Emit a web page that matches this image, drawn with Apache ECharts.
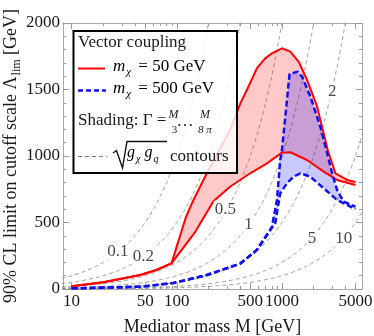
<!DOCTYPE html>
<html><head><meta charset="utf-8">
<script src="https://cdn.jsdelivr.net/npm/echarts@6/dist/echarts.min.js"></script>
<style>html,body{margin:0;padding:0;background:#fff}#c{width:374px;height:336px}</style>
</head><body><div id="c"></div>
<script>
// ---------- data ----------
const xMajorTicks = [10, 50, 100, 500, 1000, 5000];
const xMinorTicks = [20, 30, 40, 60, 70, 80, 90, 200, 300, 400, 600, 700, 800, 900, 2000, 3000, 4000];

// m_chi = 50 GeV, two width assumptions (red)
const massRedUpper   = [10, 20, 45, 64, 89, 122, 144, 193, 321, 402, 464, 577, 693, 803, 1000, 1200, 1440, 1730, 2157, 2723, 3220, 4170, 5000];
const lambdaRedUpper = [20, 50, 105, 143, 193, 540, 669, 870, 1195, 1396, 1496, 1659, 1734, 1772, 1810, 1785, 1710, 1573, 1373, 1045, 870, 820, 805];
const massRedLower   = [10, 20, 45, 64, 89, 150, 223, 321, 499, 720, 1000, 1200, 1730, 2494, 3340, 4170, 5000];
const lambdaRedLower = [20, 50, 105, 143, 193, 430, 660, 769, 870, 945, 1025, 1028, 970, 882, 820, 799, 782];

// m_chi = 500 GeV (blue)
const massBlueUpper   = [10, 45, 93, 193, 400, 577, 773, 803, 896, 963, 1000, 1181, 1408, 1552, 1862, 2318, 2643, 2997, 3344, 3863, 5000];
const lambdaBlueUpper = [5, 17, 45, 105, 190, 293, 444, 468, 669, 970, 1045, 1617, 1634, 1596, 1446, 1220, 1045, 870, 744, 656, 620];
const massBlueLower   = [10, 45, 93, 193, 400, 577, 773, 863, 963, 1116, 1290, 1494, 1862, 2494, 3344, 4170, 5000];
const lambdaBlueLower = [5, 17, 45, 105, 190, 293, 444, 494, 719, 795, 844, 870, 844, 757, 669, 632, 600];

// sqrt(g_chi g_q) contours: Lambda = M / g
const contourCouplings = [0.1, 0.2, 0.5, 1, 2, 5, 10];
const contourMassGrid = [8, 9, 10, 12, 14, 17, 20, 25, 30, 35, 40, 50, 60, 70, 80, 100, 120, 140, 170, 200, 250, 300, 350, 400, 500, 600, 700, 800, 1000, 1200, 1400, 1700, 2000, 2500, 3000, 3500, 4000, 5000, 6000];
const contourLabelMass   = [27.5, 48, 290, 481, 3000, 1932, 3865];
const contourLabelLambda = [280, 243, 600, 481, 1483, 381, 381];

// ---------- chart ----------
const FONT = '"Liberation Serif", "Times New Roman", serif';
const lg = Math.log10;
const toPts = (ms, ls) => ms.map((m, i) => [lg(m), ls[i]]);
const xMin = 0.918, xMax = 3.761;
const frameColor = '#aaaaaa', tickColor = '#999999', textColor = '#1a1a1a';
const RED = '#ff0000', BLUE = '#1010f0';

function band(upM, upL, loM, loL, fill) {
  const poly = toPts(upM, upL).concat(toPts(loM, loL).reverse());
  return {
    type: 'custom', coordinateSystem: 'cartesian2d', silent: true, z: 2,
    data: [poly[0]],
    renderItem(params, api) {
      return { type: 'polygon', shape: { points: poly.map(p => api.coord(p)) }, style: { fill: fill, stroke: null } };
    }
  };
}

const baseX = { type: 'value', min: xMin, max: xMax, splitLine: { show: false },
  axisLine: { show: false }, axisLabel: { show: false }, axisTick: { show: false } };
const majorLog = xMajorTicks.map(lg), minorLog = xMinorTicks.map(lg);
const tickLS = { color: tickColor, width: 1 };

const series = [];
contourCouplings.forEach(g => {
  series.push({ type: 'line', silent: true, z: 1, showSymbol: false, smooth: 0.3, clip: true,
    data: contourMassGrid.map(m => [lg(m), m / g]),
    lineStyle: { color: '#8a8a8a', width: 0.8, type: [4, 3] } });
});
series.push(band(massRedUpper, lambdaRedUpper, massRedLower, lambdaRedLower, 'rgba(255,0,0,0.21)'));
series.push(band(massBlueUpper, lambdaBlueUpper, massBlueLower, lambdaBlueLower, 'rgba(0,0,255,0.21)'));
const lineS = (ms, ls, color, type, width) => ({ type: 'line', silent: true, z: 4, showSymbol: false,
  data: toPts(ms, ls), lineStyle: { color, width, type } });
series.push(lineS(massRedUpper, lambdaRedUpper, RED, 'solid', 2));
series.push(lineS(massRedLower, lambdaRedLower, RED, 'solid', 2));
series.push(lineS(massBlueUpper, lambdaBlueUpper, BLUE, [6, 3], 2.5));
series.push(lineS(massBlueLower, lambdaBlueLower, BLUE, [6, 3], 2.5));
series.push({ type: 'scatter', silent: true, z: 6, symbol: 'rect', symbolSize: 1,
  itemStyle: { color: 'rgba(0,0,0,0)' },
  data: contourCouplings.map((g, i) => ({ name: String(g), value: [lg(contourLabelMass[i]), contourLabelLambda[i]] })),
  label: { show: true, position: 'inside', formatter: '{b}', fontSize: 17, fontFamily: FONT, color: textColor,
    backgroundColor: '#fff', padding: [0, 1] } });

const richMain = { fontSize: 17, fontFamily: FONT, color: textColor, verticalAlign: 'top', lineHeight: 20 };
const richIt = Object.assign({}, richMain, { fontStyle: 'italic' });
const richSub = { fontSize: 11, fontFamily: FONT, fontStyle: 'italic', color: textColor, verticalAlign: 'top', lineHeight: 11, padding: [9, 0, 0, 1] };

const Z = 100;
const graphic = [
  { type: 'rect', z: Z, shape: { x: 73.5, y: 31, width: 163.5, height: 142 },
    style: { fill: 'rgba(255,255,255,0.82)', stroke: '#000', lineWidth: 2 } },
  { type: 'text', z: Z + 1, x: 78, y: 43, style: { text: 'Vector coupling', font: '17px ' + FONT, fill: textColor, verticalAlign: 'middle' } },
  { type: 'line', z: Z + 1, shape: { x1: 78, y1: 68.5, x2: 105, y2: 68.5 }, style: { stroke: RED, lineWidth: 2 } },
  { type: 'text', z: Z + 1, x: 113, y: 68, style: { text: '{i|m}{s|χ}{n| = 50 GeV}', verticalAlign: 'middle',
      rich: { i: richIt, s: richSub, n: Object.assign({}, richMain, { padding: [0, 0, 0, 3] }) } } },
  { type: 'line', z: Z + 1, shape: { x1: 78, y1: 90.5, x2: 106, y2: 90.5 }, style: { stroke: BLUE, lineWidth: 2.5, lineDash: [5, 3] } },
  { type: 'text', z: Z + 1, x: 113, y: 90, style: { text: '{i|m}{s|χ}{n| = 500 GeV}', verticalAlign: 'middle',
      rich: { i: richIt, s: richSub, n: Object.assign({}, richMain, { padding: [0, 0, 0, 3] }) } } },
  { type: 'text', z: Z + 1, x: 78, y: 121, style: { text: 'Shading: Γ =', font: '17px ' + FONT, fill: textColor, verticalAlign: 'middle' } },
  { type: 'text', z: Z + 1, x: 173.5, y: 114.5, style: { text: 'M', font: 'italic 12px ' + FONT, fill: textColor, align: 'center', verticalAlign: 'middle' } },
  { type: 'text', z: Z + 1, x: 174.5, y: 130, style: { text: '3', font: '11px ' + FONT, fill: textColor, align: 'center', verticalAlign: 'middle' } },
  { type: 'text', z: Z + 1, x: 185, y: 122, style: { text: '…', font: '17px ' + FONT, fill: textColor, align: 'center', verticalAlign: 'middle' } },
  { type: 'text', z: Z + 1, x: 205, y: 114.5, style: { text: 'M', font: 'italic 12px ' + FONT, fill: textColor, align: 'center', verticalAlign: 'middle' } },
  { type: 'text', z: Z + 1, x: 205, y: 130, style: { text: '8 π', font: 'italic 11px ' + FONT, fill: textColor, align: 'center', verticalAlign: 'middle' } },
  { type: 'line', z: Z + 1, shape: { x1: 78, y1: 156.5, x2: 107, y2: 156.5 }, style: { stroke: '#777', lineWidth: 1, lineDash: [4, 3] } },
  { type: 'polyline', z: Z + 1, shape: { points: [[113, 153], [116.5, 150.5], [122.5, 168], [127, 141.5], [167, 141.5]] },
    style: { stroke: '#111', lineWidth: 1.4, fill: null } },
  { type: 'text', z: Z + 1, x: 127, y: 155, style: { text: '{g|g}{s|χ}{g| g}{s|q}', verticalAlign: 'middle',
      rich: { g: Object.assign({}, richIt, { fontSize: 16 }), s: Object.assign({}, richSub, { fontSize: 10 }) } } },
  { type: 'text', z: Z + 1, x: 170, y: 157, style: { text: 'contours', font: '17px ' + FONT, fill: textColor, verticalAlign: 'middle' } }
];

const option = {
  animation: false,
  backgroundColor: '#fff',
  grid: { left: 63, right: 12, top: 23, bottom: 47, containLabel: false, outerBoundsMode: 'none' },
  xAxis: [
    Object.assign({}, baseX, { position: 'bottom',
      axisLine: { show: true, lineStyle: { color: frameColor, width: 1 } },
      axisTick: { show: true, inside: true, length: 6, customValues: majorLog, lineStyle: tickLS },
      axisLabel: { show: true, customValues: majorLog, formatter: v => String(Math.round(Math.pow(10, v))),
        fontSize: 17, fontFamily: FONT, color: textColor, margin: 4 },
      name: 'Mediator mass M [GeV]', nameLocation: 'middle', nameGap: 29, nameMoveOverlap: false,
      nameTextStyle: { fontSize: 18, fontFamily: FONT, color: textColor } }),
    Object.assign({}, baseX, { position: 'bottom',
      axisTick: { show: true, inside: true, length: 3, customValues: minorLog, lineStyle: tickLS } }),
    Object.assign({}, baseX, { position: 'top',
      axisLine: { show: true, lineStyle: { color: frameColor, width: 1 } },
      axisTick: { show: true, inside: true, length: 6, customValues: majorLog, lineStyle: tickLS } }),
    Object.assign({}, baseX, { position: 'top',
      axisTick: { show: true, inside: true, length: 3, customValues: minorLog, lineStyle: tickLS } })
  ],
  yAxis: [
    { type: 'value', min: 0, max: 2000, interval: 500, position: 'left',
      axisLine: { show: true, lineStyle: { color: frameColor, width: 1 } },
      axisTick: { show: true, inside: true, length: 6, lineStyle: tickLS },
      minorTick: { show: true, splitNumber: 5, length: 3, lineStyle: tickLS },
      splitLine: { show: false }, minorSplitLine: { show: false },
      axisLabel: { fontSize: 17, fontFamily: FONT, color: textColor, margin: 3, formatter: v => String(v) },
      name: '{a|90% CL limit on cutoff scale Λ}{b|lim}{a| [GeV]}', nameLocation: 'middle', nameGap: 41, nameMoveOverlap: false,
      nameTextStyle: { rich: { a: { fontSize: 18, fontFamily: FONT, color: textColor, verticalAlign: 'top', lineHeight: 20 },
        b: { fontSize: 12, fontFamily: FONT, color: textColor, verticalAlign: 'top', lineHeight: 12, padding: [9, 0, 0, 1] } } } },
    { type: 'value', min: 0, max: 2000, interval: 500, position: 'right',
      axisLine: { show: true, lineStyle: { color: frameColor, width: 1 } },
      axisTick: { show: true, inside: true, length: 6, lineStyle: tickLS },
      minorTick: { show: true, splitNumber: 5, length: 3, lineStyle: tickLS },
      splitLine: { show: false }, minorSplitLine: { show: false }, axisLabel: { show: false } }
  ],
  series: series,
  graphic: graphic
};
const chart = echarts.init(document.getElementById('c'));
chart.setOption(option);
</script></body></html>
